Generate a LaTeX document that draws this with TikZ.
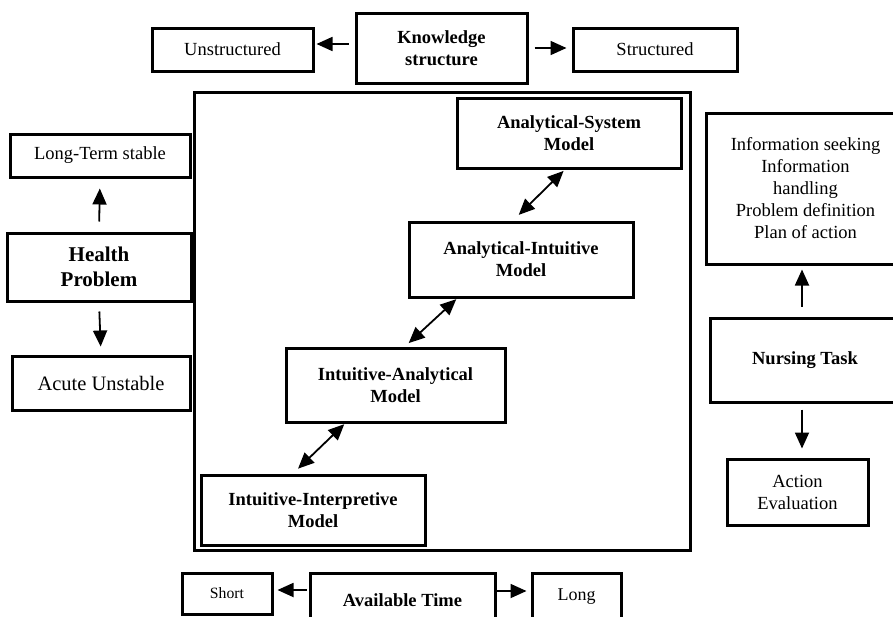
\documentclass[tikz,border=0pt]{standalone}
\usepackage{fontspec}
\setmainfont{Liberation Serif}
\usetikzlibrary{arrows.meta}

\begin{document}
\begin{tikzpicture}[x=1pt,y=-1pt,
        box/.style={draw, line width=3pt, align=center, inner sep=0pt, font=\fontsize{18.5}{22}\selectfont},
        hbox/.style={box, font=\bfseries\fontsize{18.5}{22}\selectfont},
        arr/.style={-{Triangle[length=16pt,width=14pt]}, line width=1.8pt},
        dbl/.style={{Triangle[length=16pt,width=14pt]}-{Triangle[length=16pt,width=14pt]}, line width=1.8pt}]
    \useasboundingbox (0,0) rectangle (893,616);
    \clip (0,0) rectangle (893,616);
    % knowledge structure
    \node[hbox, minimum width=171pt, minimum height=70pt] (know) at (441.5,48) {Knowledge\\structure};
    \node[box, minimum width=161pt, minimum height=43pt] (unstr) at (232.5,49.5) {Unstructured};
    \node[box, minimum width=164pt, minimum height=43pt] (struc) at (655,49.5) {Structured};
    \draw[arr, shorten <=6pt, shorten >=2pt] ([yshift=4pt]know.west) -- ([yshift=4pt]know.west -| unstr.east);
    \draw[arr, shorten <=6pt, shorten >=5pt] (know.east) -- (know.east -| struc.west);
    % models
    \draw[line width=3pt] (194,92) rectangle (690,550);
    \node[hbox, minimum width=224pt, minimum height=70pt] (asm) at (569,133) {Analytical-System\\Model};
    \node[hbox, minimum width=224pt, minimum height=75pt] (aim) at (521,259.5) {Analytical-Intuitive\\Model};
    \node[hbox, minimum width=219pt, minimum height=74pt] (iam) at (395.5,385) {Intuitive-Analytical\\Model};
    \node[hbox, minimum width=224pt, minimum height=70pt] (iim) at (313,510) {Intuitive-Interpretive\\Model};
    \draw[dbl, shorten <=2pt, shorten >=8pt] ([xshift=-4pt]asm.south) -- ([xshift=-8pt]aim.north);
    \draw[dbl, shorten <=1pt, shorten >=5pt] ([xshift=-64pt]aim.south) -- ([xshift=9.5pt]iam.north);
    \draw[dbl, shorten <=1pt, shorten >=7pt] ([xshift=-50.5pt]iam.south) -- ([xshift=-20pt]iim.north);
    % health problem
    \node[hbox, minimum width=184pt, minimum height=68pt, font=\bfseries\fontsize{21}{25}\selectfont] (hp) at (99,267) {Health\\Problem};
    \node[box, minimum width=180pt, minimum height=43pt] (lts) at (100,155.5) {Long-Term stable};
    \node[box, minimum width=178pt, minimum height=54pt, font=\fontsize{20.5}{24}\selectfont] (au) at (101,383) {Acute Unstable};
    \draw[arr, shorten <=10pt, shorten >=10pt] (hp.north) -- (lts.south);
    \draw[arr, shorten <=9pt, shorten >=8pt] (hp.south) -- (au.north);
    % nursing task
    \node[hbox, minimum width=190pt, minimum height=84pt] (nt) at (805,360) {Nursing Task};
    \node[box, minimum width=199pt, minimum height=151pt] (info) at (805.5,188.5) {Information seeking\\Information\\handling\\Problem definition\\Plan of action};
    \node[box, minimum width=141pt, minimum height=66pt] (ae) at (797.5,492) {Action\\Evaluation};
    \draw[arr, shorten <=10pt, shorten >=4pt] ([xshift=-3pt]nt.north) -- ([xshift=-3pt]nt.north |- info.south);
    \draw[arr, shorten <=6pt, shorten >=9pt] ([xshift=-3pt]nt.south) -- ([xshift=-3pt]nt.south |- ae.north);
    % available time
    \node[hbox, minimum width=185pt, minimum height=54pt] (at) at (402.5,600) {Available Time};
    \node[box, minimum width=90pt, minimum height=41pt, font=\fontsize{15.7}{19}\selectfont] (short) at (227,593.5) {Short};
    \node[box, minimum width=89pt, minimum height=48pt, font=\fontsize{18}{22}\selectfont] (long) at (576.5,597) {Long};
    \draw[arr, shorten <=2pt, shorten >=4pt] ([yshift=10pt]at.west) -- ([yshift=10pt]at.west -| short.east);
    \draw[arr, shorten >=4pt] ([yshift=9pt]at.east) -- ([yshift=9pt]at.east -| long.west);
\end{tikzpicture}
\end{document}
